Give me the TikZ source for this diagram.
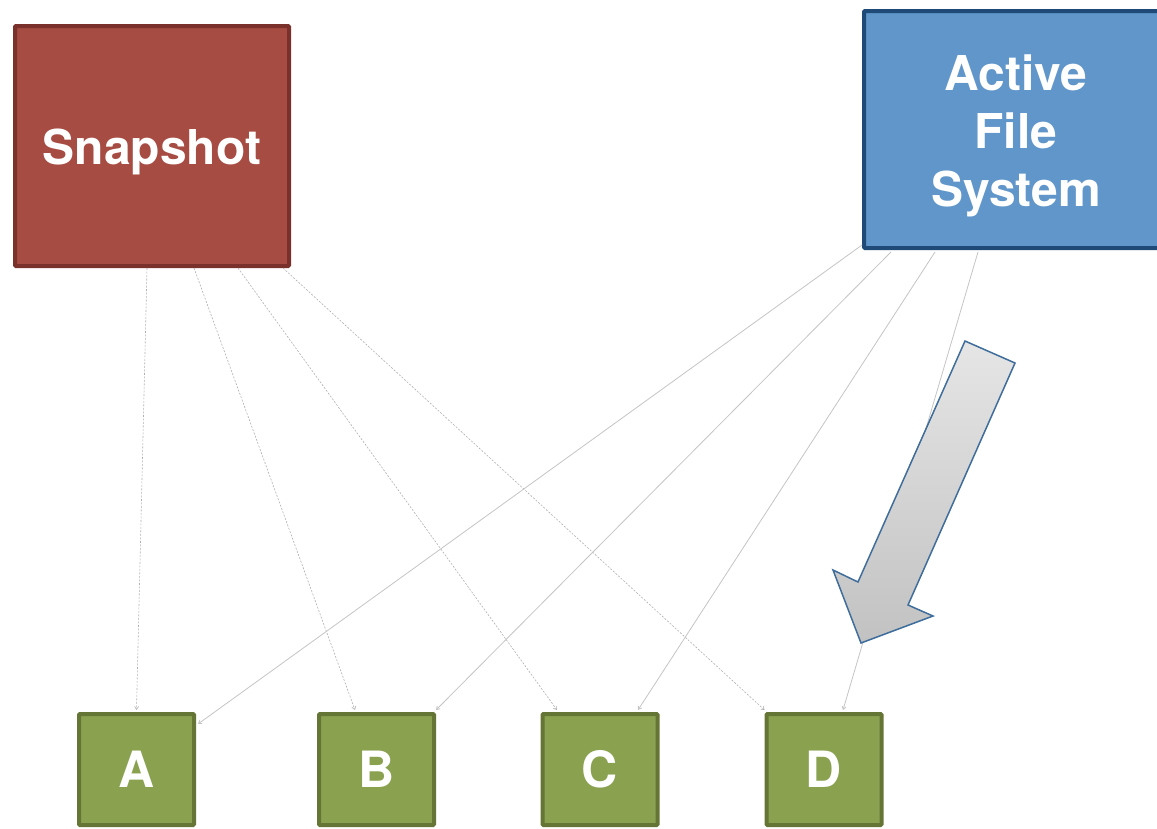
\documentclass[tikz,border=0pt]{standalone}
\usepackage{fontspec}
\setmainfont{TeX Gyre Heros}
\usetikzlibrary{arrows.meta,calc}
\definecolor{snapfill}{HTML}{A64C43}
\definecolor{snapline}{HTML}{7A302B}
\definecolor{afsfill}{HTML}{6096C9}
\definecolor{afsline}{HTML}{1F4A78}
\definecolor{blkfill}{HTML}{8AA250}
\definecolor{blkline}{HTML}{647535}
\definecolor{linkgray}{HTML}{C4C4C4}
\definecolor{bigarrowline}{HTML}{3F6D9C}
\tikzset{
  bigbox/.style={rectangle, rounded corners=1pt, line width=4pt, inner sep=0pt},
  boxtext/.style={text=white, font=\fontsize{48}{58}\selectfont\bfseries,
    align=center, inner sep=0pt},
  blkbox/.style={rectangle, rounded corners=1pt, line width=4pt, draw=blkline, fill=blkfill,
    text=white, font=\fontsize{50}{60}\selectfont\bfseries,
    minimum width=115pt, minimum height=111pt, inner sep=0pt},
  snaplink/.style={draw=linkgray!90!black, line width=0.6pt, dash pattern=on 2pt off 1.5pt,
    -{Straight Barb[length=3pt,width=4pt]}},
  afslink/.style={draw=linkgray, line width=0.8pt,
    -{Straight Barb[length=3pt,width=4pt]}},
}
\begin{document}
\begin{tikzpicture}[x=1pt,y=-1pt]
  \useasboundingbox (0,0) rectangle (1157,828);
  \clip (0,0) rectangle (1157,828);

  % source boxes
  \node[bigbox, draw=snapline, fill=snapfill, minimum width=274pt, minimum height=240pt]
    (snap) at (152,146) {};
  \node[boxtext] (snaptext) at ([yshift=-6pt]snap.center) {Snapshot};
  \node[bigbox, draw=afsline, fill=afsfill, minimum width=304pt, minimum height=237pt]
    (afs) at (1016,129.5) {};
  \node[boxtext] (afstext) at ([yshift=-6pt]afs.center) {Active\\File\\System};

  % data blocks
  \node[blkbox] (A) at (136.5,769.5) {A};
  \node[blkbox] (B) at (376.5,769.5) {B};
  \node[blkbox] (C) at (600,769.5) {C};
  \node[blkbox] (D) at (824,769.5) {D};

  % snapshot pointers
  \draw[snaplink] ([xshift=134pt]snap.south west) -- ([yshift=2pt]A.north);
  \draw[snaplink] ([xshift=181pt]snap.south west) -- ([xshift=-21.5pt,yshift=2pt]B.north);
  \draw[snaplink] ([xshift=225pt]snap.south west) -- ([xshift=-43pt,yshift=2pt]C.north);
  \draw[snaplink] ([xshift=270pt]snap.south west) -- ([yshift=2pt]D.north west);

  % active file system pointers
  \draw[afslink] ([yshift=5pt]afs.south west) -- ([xshift=2pt,yshift=-12pt]A.north east);
  \draw[afslink] ([xshift=29pt,yshift=-2pt]afs.south west) -- ([yshift=2pt]B.north east);
  \draw[afslink] ([xshift=73pt,yshift=-2pt]afs.south west) -- ([xshift=38pt,yshift=2pt]C.north);
  \draw[afslink] ([xshift=116pt,yshift=-2pt]afs.south west) -- ([xshift=19pt,yshift=2pt]D.north);

  % block arrow
  \path[draw=bigarrowline, line width=1.5pt, line join=miter,
        top color=black!10, middle color=black!21, bottom color=black!24]
    (965,341) -- (1015,363) -- (908,605) -- (933,616) -- (861,643)
    -- (833,570) -- (858,582) -- cycle;
\end{tikzpicture}
\end{document}
